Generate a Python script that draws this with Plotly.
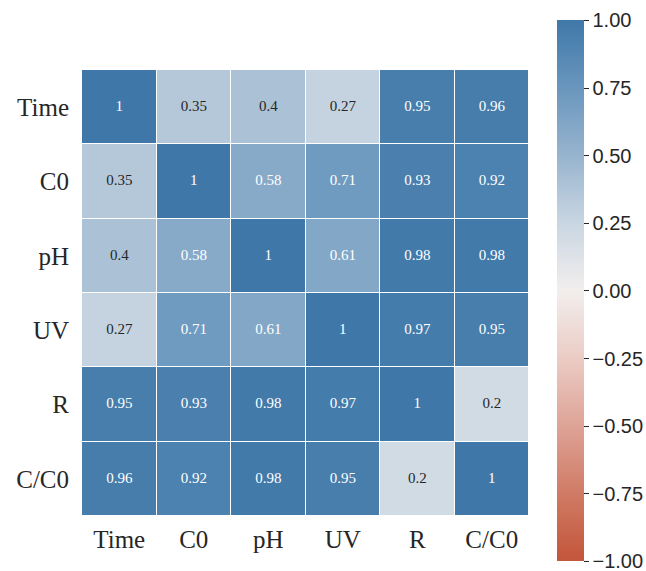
import plotly.graph_objects as go

# Correlation matrix of process variables
labels = ["Time", "C0", "pH", "UV", "R", "C/C0"]
corr = [
    [1.00, 0.35, 0.40, 0.27, 0.95, 0.96],
    [0.35, 1.00, 0.58, 0.71, 0.93, 0.92],
    [0.40, 0.58, 1.00, 0.61, 0.98, 0.98],
    [0.27, 0.71, 0.61, 1.00, 0.97, 0.95],
    [0.95, 0.93, 0.98, 0.97, 1.00, 0.20],
    [0.96, 0.92, 0.98, 0.95, 0.20, 1.00],
]
cbar_ticks = [-1.0, -0.75, -0.5, -0.25, 0.0, 0.25, 0.5, 0.75, 1.0]

# Diverging red-to-blue palette with a light centre
colorscale = [
    [0.000, "#c3553a"],
    [0.125, "#d07b65"],
    [0.250, "#dea397"],
    [0.375, "#ebccc5"],
    [0.500, "#f2eeed"],
    [0.625, "#c9d6e2"],
    [0.750, "#97b4ce"],
    [0.875, "#6996bd"],
    [1.000, "#3f78a8"],
]


def fmt(v):
    return f"{v:g}"


xs, ys, texts, colors = [], [], [], []
for i, row in enumerate(corr):
    for j, v in enumerate(row):
        xs.append(labels[j])
        ys.append(labels[i])
        texts.append(fmt(v))
        colors.append("#ffffff" if v >= 0.5 else "#262626")

fig = go.Figure()
fig.add_trace(go.Heatmap(
    z=corr, x=labels, y=labels,
    zmin=-1, zmax=1, colorscale=colorscale,
    xgap=1, ygap=1, hoverongaps=False,
    colorbar=dict(
        tickvals=cbar_ticks,
        ticktext=[f"{t:.2f}".replace("-", "\u2212") for t in cbar_ticks],
        ticks="outside", ticklen=5, tickwidth=1, tickcolor="#262626",
        tickfont=dict(family="Liberation Sans, Arial", size=20, color="#262626"),
        ticklabeloverflow="allow",
        outlinewidth=0, thickness=27,
        lenmode="pixels", len=541,
        y=0.5045, yanchor="middle",
        x=1.0626, xanchor="left", xpad=0, ypad=0,
    ),
))
fig.add_trace(go.Scatter(
    x=xs, y=ys, mode="text", text=texts,
    textfont=dict(family="Liberation Serif, Times New Roman", size=15, color=colors),
    hoverinfo="skip", showlegend=False,
))

fig.update_layout(
    width=646, height=571,
    margin=dict(l=82, r=117, t=70, b=55, autoexpand=False),
    plot_bgcolor="#ffffff", paper_bgcolor="#ffffff",
    showlegend=False,
)
fig.update_xaxes(
    categoryorder="array", categoryarray=labels,
    showgrid=False, zeroline=False, showline=False, ticks="",
    tickfont=dict(family="Liberation Serif, Times New Roman", size=25, color="#262626"),
    ticklabelstandoff=6,
)
fig.update_yaxes(
    categoryorder="array", categoryarray=labels, autorange="reversed",
    showgrid=False, zeroline=False, showline=False, ticks="",
    tickfont=dict(family="Liberation Serif, Times New Roman", size=25, color="#262626"),
    ticklabelstandoff=12,
)

fig.write_html("out.html")
